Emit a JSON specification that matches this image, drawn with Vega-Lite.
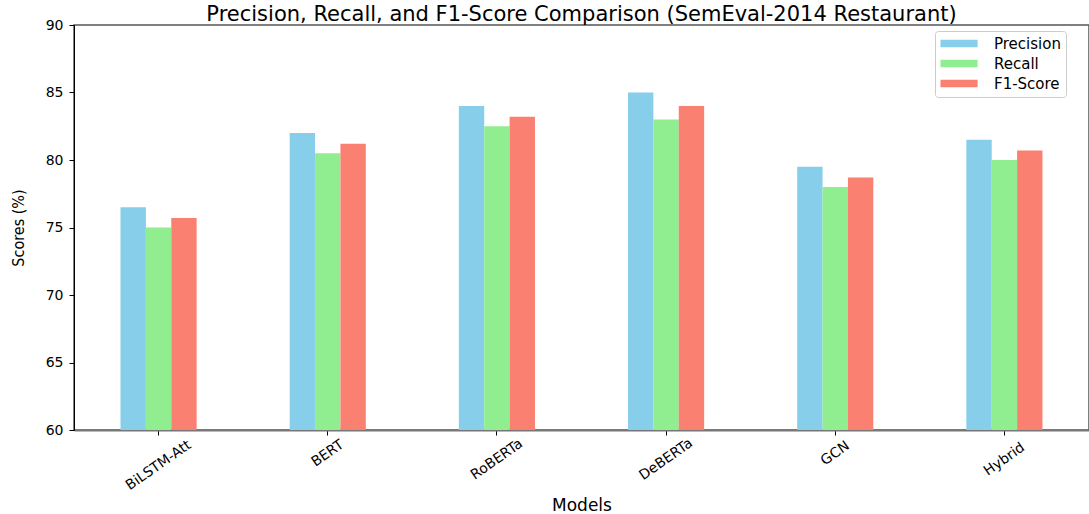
{
  "$schema": "https://vega.github.io/schema/vega-lite/v6.json",
  "autosize": {"type": "none"},
  "width": 1015,
  "height": 405,
  "padding": {"left": 74, "top": 25, "right": 0, "bottom": 84},
  "background": "white",
  "title": {
    "text": "Precision, Recall, and F1-Score Comparison (SemEval-2014 Restaurant)",
    "font": "DejaVu Sans",
    "fontSize": 21,
    "fontWeight": "normal",
    "color": "#000",
    "offset": -7,
    "anchor": "middle"
  },
  "data": {
    "values": [
      {"model": "BiLSTM-Att", "metric": "Precision", "score": 76.5},
      {"model": "BiLSTM-Att", "metric": "Recall", "score": 75.0},
      {"model": "BiLSTM-Att", "metric": "F1-Score", "score": 75.7},
      {"model": "BERT", "metric": "Precision", "score": 82.0},
      {"model": "BERT", "metric": "Recall", "score": 80.5},
      {"model": "BERT", "metric": "F1-Score", "score": 81.2},
      {"model": "RoBERTa", "metric": "Precision", "score": 84.0},
      {"model": "RoBERTa", "metric": "Recall", "score": 82.5},
      {"model": "RoBERTa", "metric": "F1-Score", "score": 83.2},
      {"model": "DeBERTa", "metric": "Precision", "score": 85.0},
      {"model": "DeBERTa", "metric": "Recall", "score": 83.0},
      {"model": "DeBERTa", "metric": "F1-Score", "score": 84.0},
      {"model": "GCN", "metric": "Precision", "score": 79.5},
      {"model": "GCN", "metric": "Recall", "score": 78.0},
      {"model": "GCN", "metric": "F1-Score", "score": 78.7},
      {"model": "Hybrid", "metric": "Precision", "score": 81.5},
      {"model": "Hybrid", "metric": "Recall", "score": 80.0},
      {"model": "Hybrid", "metric": "F1-Score", "score": 80.7}
    ]
  },
  "mark": {"type": "bar", "clip": true, "y2": 405},
  "encoding": {
    "x": {
      "field": "model",
      "type": "nominal",
      "sort": ["BiLSTM-Att", "BERT", "RoBERTa", "DeBERTa", "GCN", "Hybrid"],
      "scale": {"paddingInner": 0.55, "paddingOuter": 0.275, "align": 0.5},
      "axis": {
        "title": "Models",
        "titleFont": "DejaVu Sans",
        "titleFontSize": 17,
        "titleFontWeight": "normal",
        "titleColor": "#000",
        "titleBaseline": "alphabetic",
        "titleY": 80,
        "labelAngle": -35,
        "labelAlign": "center",
        "labelBaseline": "middle",
        "labelFont": "DejaVu Sans",
        "labelFontSize": 14,
        "labelColor": "#000",
        "labelPadding": {
          "condition": [
            {"test": "datum.label == 'BiLSTM-Att'", "value": 30},
            {"test": "length(datum.label) <= 4", "value": 18}
          ],
          "value": 24
        },
        "tickColor": "#000",
        "tickSize": 5,
        "domainColor": "#777",
        "domainWidth": 2
      }
    },
    "xOffset": {
      "field": "metric",
      "type": "nominal",
      "sort": ["Precision", "Recall", "F1-Score"],
      "scale": {"paddingInner": 0, "paddingOuter": 0}
    },
    "y": {
      "field": "score",
      "type": "quantitative",
      "scale": {"domain": [60, 90], "nice": false, "zero": false},
      "axis": {
        "title": "Scores (%)",
        "titleFont": "DejaVu Sans Condensed",
        "titleFontSize": 16,
        "titleFontWeight": "normal",
        "titleColor": "#000",
        "titlePadding": 19,
        "values": [60, 65, 70, 75, 80, 85, 90],
        "grid": false,
        "labelFont": "DejaVu Sans",
        "labelFontSize": 14,
        "labelColor": "#000",
        "labelPadding": 6,
        "tickColor": "#000",
        "tickSize": 5,
        "domainColor": "#000"
      }
    },
    "color": {
      "field": "metric",
      "type": "nominal",
      "sort": ["Precision", "Recall", "F1-Score"],
      "scale": {
        "domain": ["Precision", "Recall", "F1-Score"],
        "range": ["#87CEEB", "#90EE90", "#FA8072"]
      },
      "legend": {
        "title": null,
        "orient": "none",
        "legendX": 861,
        "legendY": 6,
        "symbolType": "M-1,-0.53H4.3V0.53H-1Z",
        "symbolSize": 196,
        "symbolStrokeWidth": 0,
        "symbolOpacity": 1,
        "labelFont": "DejaVu Sans",
        "labelFontSize": 15,
        "labelColor": "#000",
        "labelOffset": 39,
        "rowPadding": 4,
        "padding": 5,
        "strokeColor": "#ccc",
        "fillColor": "white",
        "cornerRadius": 3
      }
    }
  },
  "config": {
    "view": {"stroke": "#555", "strokeWidth": 1.5}
  }
}
